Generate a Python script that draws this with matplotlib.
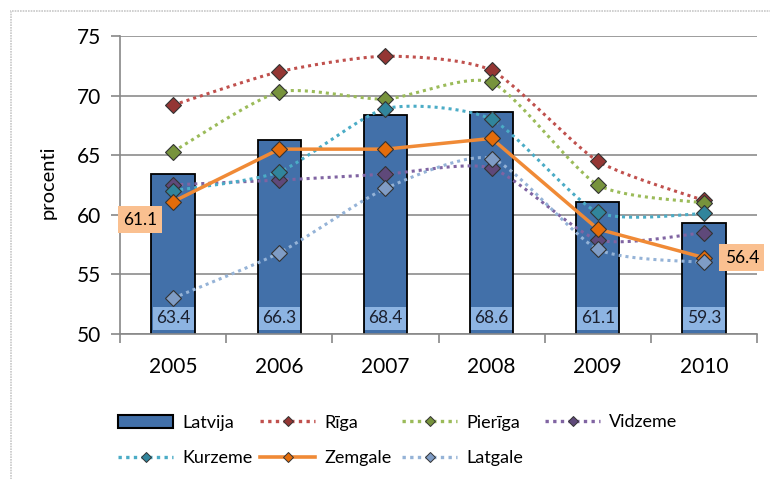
import numpy as np
import matplotlib
matplotlib.use("Agg")
import matplotlib.pyplot as plt
from matplotlib.lines import Line2D
from matplotlib.patches import Patch, Rectangle

plt.rcParams['font.family'] = ['Lato', 'DejaVu Sans']

years = ['2005', '2006', '2007', '2008', '2009', '2010']
latvija = [63.4, 66.3, 68.4, 68.6, 61.1, 59.3]
riga = [69.2, 72.0, 73.3, 72.1, 64.5, 61.2]
pieriga = [65.3, 70.3, 69.7, 71.1, 62.5, 61.0]
vidzeme = [62.5, 62.9, 63.4, 63.9, 57.9, 58.5]
kurzeme = [62.0, 63.6, 68.9, 68.0, 60.2, 60.1]
zemgale = [61.1, 65.5, 65.5, 66.4, 58.8, 56.4]
latgale = [53.0, 56.8, 62.2, 64.7, 57.1, 56.0]

series = [
    ('Rīga', riga, '#C0504D', '#943634', True),
    ('Pierīga', pieriga, '#9BBB59', '#77933C', True),
    ('Vidzeme', vidzeme, '#8064A2', '#5F497A', True),
    ('Kurzeme', kurzeme, '#4BACC6', '#31859C', True),
    ('Zemgale', zemgale, '#F08A36', '#E46C0A', False),
    ('Latgale', latgale, '#95B3D7', '#7F9CC5', True),
]


def smooth(xs, ys, n=30, k=9.0):
    xs = np.asarray(xs, float)
    ys = np.asarray(ys, float)
    px = np.concatenate([[xs[0]], xs, [xs[-1]]])
    py = np.concatenate([[ys[0]], ys, [ys[-1]]])
    ox, oy = [], []
    for i in range(1, len(px) - 2):
        p0, p1, p2, p3 = [np.array([px[j], py[j]]) for j in range(i - 1, i + 3)]
        c1 = p1 + (p2 - p0) / k
        c2 = p2 - (p3 - p1) / k
        t = np.linspace(0, 1, n)[:, None]
        b = ((1 - t) ** 3) * p1 + 3 * ((1 - t) ** 2) * t * c1 + 3 * (1 - t) * t ** 2 * c2 + t ** 3 * p2
        ox.extend(b[:, 0])
        oy.extend(b[:, 1])
    return np.array(ox), np.array(oy)


fig = plt.figure(figsize=(7.7, 4.79), dpi=100)
ax = fig.add_axes([0.156, 0.303, 0.827, 0.622])

x = np.arange(len(years))
bar_color = '#4270A9'
ax.bar(x, latvija, width=0.41, color=bar_color, edgecolor='black', linewidth=1.3, zorder=2)

DOT = (0, (1, 1.3))
for name, vals, lc, mc, sm in series:
    if sm:
        sx, sy = smooth(x, vals)
        ax.plot(sx, sy, color=lc, linestyle=DOT, linewidth=2.2, zorder=3)
    else:
        ax.plot(x, vals, color=lc, linestyle='-', linewidth=2.5, zorder=3)
    ax.plot(x, vals, linestyle='none', marker='D', markersize=8, markerfacecolor=mc,
            markeredgecolor='#333333', markeredgewidth=0.8, zorder=4)

for xi, v in zip(x, latvija):
    ax.text(xi, 51.3, f'{v:.1f}', ha='center', va='center', fontsize=12.5, color='#1A1F2E',
            bbox=dict(boxstyle='square,pad=0.2', facecolor='#8DB4E2', edgecolor='none'), zorder=6)

ax.annotate(f'{zemgale[0]:.1f}', (x[0], zemgale[0]), xytext=(-33, -18), textcoords='offset pixels',
            ha='center', va='center', fontsize=12.5, color='black',
            bbox=dict(boxstyle='square,pad=0.3', facecolor='#FAC090', edgecolor='none'), zorder=7)
ax.annotate(f'{zemgale[-1]:.1f}', (x[-1], zemgale[-1]), xytext=(38, 0), textcoords='offset pixels',
            ha='center', va='center', fontsize=12.5, color='black',
            bbox=dict(boxstyle='square,pad=0.3', facecolor='#FAC090', edgecolor='none'), zorder=7,
            annotation_clip=False)

ax.set_xlim(-0.5, len(years) - 0.5)
ax.set_ylim(50, 75)
ax.set_yticks([50, 55, 60, 65, 70, 75])
ax.set_xticks(x)
ax.set_xticklabels(years)
ax.set_xticks(np.arange(-0.5, len(years), 1.0), minor=True)
ax.tick_params(axis='x', which='major', length=0, labelsize=15, pad=17)
ax.tick_params(axis='x', which='minor', length=6.5, color='#888888', width=1.2)
ax.tick_params(axis='y', length=6.5, color='#888888', width=1.2, labelsize=15, pad=7)
ax.yaxis.grid(True, color='#8C8C8C', linewidth=1.2, zorder=0)
ax.set_axisbelow(True)
for s in ['top', 'right']:
    ax.spines[s].set_visible(False)
for s in ['left', 'bottom']:
    ax.spines[s].set_color('#888888')
    ax.spines[s].set_linewidth(1.2)
ax.set_ylabel('procenti', fontsize=14.5)
ax.yaxis.set_label_coords(-0.099, 0.51)

handles = {}
handles['Latvija'] = Patch(facecolor=bar_color, edgecolor='black', linewidth=1.5)
for name, vals, lc, mc, sm in series:
    handles[name] = Line2D([0], [0], color=lc, linestyle=DOT if sm else '-',
                           linewidth=2.4 if sm else 2.6, marker='D', markersize=5.5,
                           markerfacecolor=mc, markeredgecolor='#333333', markeredgewidth=0.7)

columns = [['Latvija', 'Kurzeme'], ['Rīga', 'Zemgale'], ['Pierīga', 'Latgale'], ['Vidzeme']]
col_x = [118, 260, 402, 545]
W, H = 770.0, 479.0
row1_y, row2_y = 422.0, 459.0
for names, cx in zip(columns, col_x):
    if len(names) == 2:
        cy = (row1_y + row2_y) / 2
    else:
        cy = row1_y
    fig.legend([handles[k] for k in names], names, loc='center left',
               bbox_to_anchor=(cx / W, 1 - cy / H), frameon=False, fontsize=13,
               handlelength=3.05, handletextpad=0.5, labelspacing=1.1,
               borderpad=0, borderaxespad=0)

fig.patches.append(Rectangle((0.014, -0.01), 1.0, 0.988, transform=fig.transFigure,
                             fill=False, edgecolor='#C8C8C8', linewidth=1.2, linestyle=(0, (1, 0.6))))

fig.savefig('out.png', dpi=100)
